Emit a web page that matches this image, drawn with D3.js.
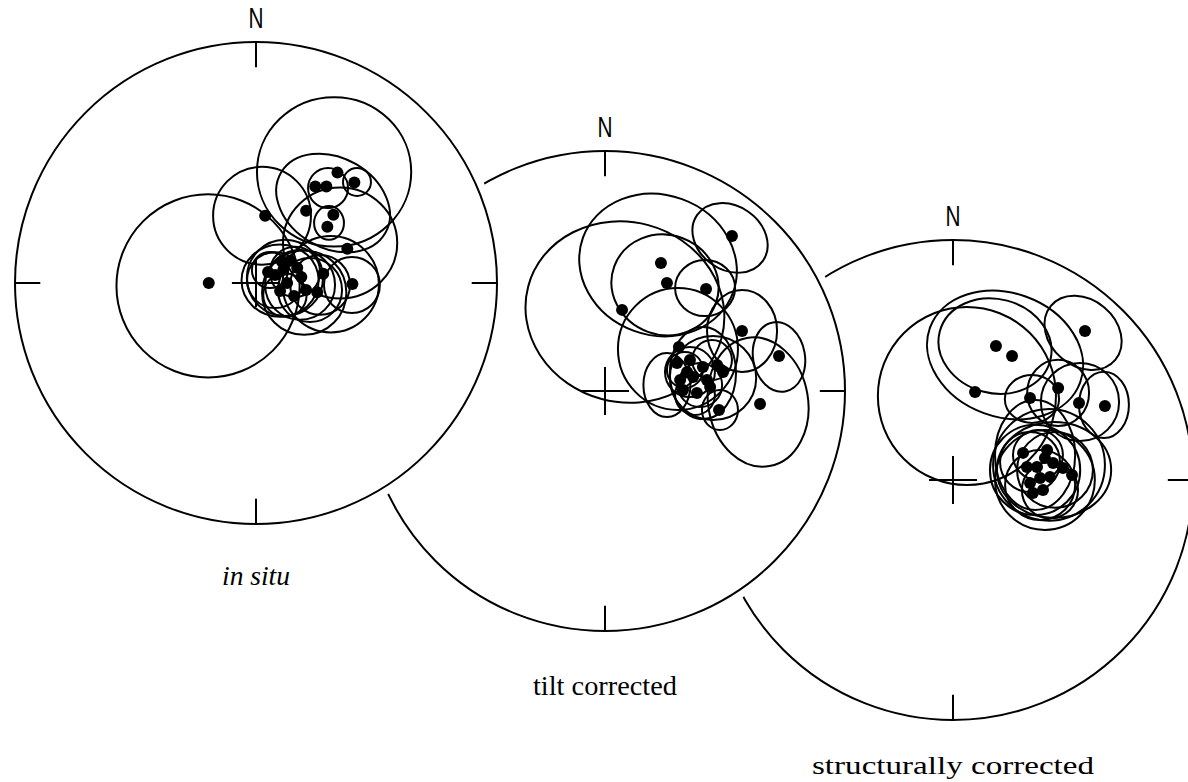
<!DOCTYPE html>
<html>
<head>
<meta charset="utf-8">
<script src="https://cdn.jsdelivr.net/npm/d3@7"></script>
<style>
  html, body { margin: 0; padding: 0; background: #fff; }
  svg { display: block; }
</style>
</head>
<body>
<svg id="chart" width="1188" height="782"></svg>
<script>
// ---------- DATA (net coordinates: percent of primitive radius, East / North) ----------
const northLabel = "N";
const netLabels = ["in situ", "tilt corrected", "structurally corrected"];

// in situ: site means [E, N]
const insituPoints = [
  [-19.6, 0], [3.8, 27.9], [20.8, 30.0], [32.1, 28.3], [29.6, 23.3], [24.6, 40.0],
  [29.2, 40.0], [33.8, 45.8], [40.8, 41.7], [37.9, 14.2], [40.0, -0.4],
  [5.0, 4.6], [7.9, 3.3], [11.3, 5.4], [14.2, 9.2], [17.1, 6.3], [18.8, 2.5],
  [10.0, -3.3], [12.9, 0], [20.8, -2.9], [25.4, -3.8], [27.9, 3.8], [15.8, -5.4], [10.8, 8.8]
];
// in situ: confidence ellipses [E, N, semi-axis a, semi-axis b, rotation deg]
const insituEllipses = [
  [-19.9, -1.2, 38, 38, 0], [2.5, 27.9, 20.3, 20.3, 0], [32.4, 46.1, 32, 31, 0],
  [32.0, 33.2, 25, 18.7, 30], [41.9, 41.9, 5.8, 5.8, 0], [29.9, 39.4, 8.3, 8.3, 0],
  [30.3, 24.9, 6.2, 7.0, 0], [34.9, 16.6, 23.7, 23.0, 0], [39.8, -0.8, 11.6, 11.6, 0],
  [12.0, 2.1, 15.8, 15.8, 0], [7.9, 1.2, 11.6, 11.6, 0], [18.3, -0.8, 14.5, 14.5, 0],
  [22.4, -2.9, 13.3, 13.3, 0], [16.2, 4.6, 10.4, 10.4, 0], [26.6, -0.8, 12.4, 12.4, 0],
  [12.0, -5.0, 9.0, 9.0, 0], [5.8, 5.4, 7.5, 7.5, 0], [31.0, -0.5, 20.0, 20.0, 0],
  [20.0, -4.0, 17.5, 17.5, 0], [10.0, 1.0, 16.0, 15.0, 0]
];

// tilt corrected
const tiltPoints = [
  [52.9, 64.6], [23.3, 53.3], [25.8, 45.0], [42.1, 42.5], [7.1, 33.8], [57.1, 25.0],
  [72.5, 14.6], [30.8, 18.3], [64.6, -5.4], [47.5, -7.9],
  [30.0, 11.7], [35.4, 12.9], [40.8, 10.0], [46.7, 10.8], [49.2, 7.9], [31.3, 4.6],
  [36.7, 5.8], [42.5, 4.6], [32.5, 0.4], [38.3, -0.8], [43.8, 1.7], [34.2, 7.9]
];
const tiltEllipses = [
  [8.3, 32.9, 41.7, 37.5, 15], [22.1, 52.5, 33.3, 29.2, 20], [25.0, 44.2, 22.5, 20.8, 20],
  [52.1, 63.8, 16.7, 13.3, 35], [41.7, 42.9, 12.5, 11.7, 0], [57.1, 25.0, 14.6, 17.1, 0],
  [72.5, 14.2, 10.8, 14.6, -10], [63.8, -4.6, 20.8, 27.1, -10], [30.4, 17.5, 25, 25.4, 0],
  [25.8, 2.5, 9.8, 13.3, 0], [40.8, 7.5, 13.8, 19.2, 0], [47.9, -7.9, 7.5, 8.3, 0],
  [35.4, 7.9, 10.4, 10.4, 0], [33.3, 8.8, 7.5, 7.5, 0], [39.6, 2.5, 9.2, 9.2, 0],
  [44.6, 12.9, 8.3, 8.3, 0], [37.5, -1.7, 8.3, 8.3, 0], [45.0, 5.4, 18.0, 17.5, 0]
];

// structurally corrected
const structPoints = [
  [55.0, 62.1], [17.9, 55.8], [24.6, 51.7], [9.2, 36.7], [32.1, 34.2], [43.8, 38.3],
  [52.5, 32.1], [63.3, 30.8],
  [49.6, 2.1], [45.8, 5.0], [29.2, 11.3], [32.1, -1.3], [37.5, -4.2], [39.2, 12.5],
  [35.0, 5.4], [41.7, 7.1], [30.8, 5.4], [36.3, 0.8], [40.4, 1.3], [33.3, -5.4], [38.3, 9.2]
];
const structEllipses = [
  [5.8, 35.0, 37.1, 37.1, 0], [21.7, 52.1, 33.3, 25.8, 20], [17.5, 55.8, 23.8, 19.6, 15],
  [54.2, 61.3, 17.5, 13.8, 40], [32.9, 33.8, 11.3, 10.0, 0], [43.8, 36.3, 12.9, 13.8, 0],
  [62.9, 31.3, 10.4, 13.8, 0], [52.9, 32.5, 16.3, 16.3, 0],
  [40.0, 6.3, 23.3, 23.3, 0], [34.2, 4.2, 18.8, 18.8, 0], [38.3, 0, 20.8, 20.8, 0],
  [32.1, 7.5, 12.5, 12.5, 0], [42.5, 4.2, 15.8, 15.8, 0], [36.3, -2.1, 14.6, 14.6, 0],
  [35.4, 10.4, 10.4, 10.4, 0], [40.4, -4.2, 11.7, 11.7, 0], [34.2, 10.4, 16.7, 22.9, 0],
  [42.1, 4.2, 23.8, 20.0, 0]
];

// ---------- LAYOUT ----------
const svg = d3.select("#chart");
const layout = [
  { cx: 256, cy: 283, R: 241, label: { y: 585, w: 68, italic: true, fs: 27 } },
  { cx: 605, cy: 391, R: 240, label: { y: 695, w: 144, italic: false, fs: 27 } },
  { cx: 953, cy: 480, R: 240, label: { y: 774, w: 282, italic: false, fs: 25 } }
];
const pointSets = [insituPoints, tiltPoints, structPoints];
const ellipseSets = [insituEllipses, tiltEllipses, structEllipses];

// draw back-to-front: structural, tilt, in situ
[2, 1, 0].forEach(i => {
  const L = layout[i];
  const x = d3.scaleLinear().domain([-100, 100]).range([L.cx - L.R, L.cx + L.R]);
  const y = d3.scaleLinear().domain([-100, 100]).range([L.cy + L.R, L.cy - L.R]);
  const r = d3.scaleLinear().domain([0, 100]).range([0, L.R]);
  const g = svg.append("g");

  // white mask (halo) and primitive circle
  g.append("circle").attr("cx", x(0)).attr("cy", y(0)).attr("r", r(100) + 8).attr("fill", "#fff");
  g.append("circle").attr("cx", x(0)).attr("cy", y(0)).attr("r", r(100))
    .attr("fill", "none").attr("stroke", "#000").attr("stroke-width", 2);

  // cardinal ticks
  const tick = 10.5;
  const ticks = [[0, 100, 0, 100 - tick], [0, -100, 0, -100 + tick], [100, 0, 100 - tick, 0], [-100, 0, -100 + tick, 0]];
  g.selectAll("line.tick").data(ticks).join("line").attr("class", "tick")
    .attr("x1", d => x(d[0])).attr("y1", d => y(d[1])).attr("x2", d => x(d[2])).attr("y2", d => y(d[3]))
    .attr("stroke", "#000").attr("stroke-width", 2);
  // centre cross
  const cr = 10;
  g.selectAll("line.cross").data([[-cr, 0, cr, 0], [0, -cr, 0, cr]]).join("line").attr("class", "cross")
    .attr("x1", d => x(d[0])).attr("y1", d => y(d[1])).attr("x2", d => x(d[2])).attr("y2", d => y(d[3]))
    .attr("stroke", "#000").attr("stroke-width", 2);

  // N label
  g.append("text").attr("x", x(0)).attr("y", y(100) - 14)
    .attr("text-anchor", "middle").attr("font-family", "Liberation Sans, Arial, sans-serif")
    .attr("font-size", 29).attr("textLength", 15).attr("lengthAdjust", "spacingAndGlyphs")
    .text(northLabel);

  // ellipses
  g.selectAll("ellipse").data(ellipseSets[i]).join("ellipse")
    .attr("cx", d => x(d[0])).attr("cy", d => y(d[1]))
    .attr("rx", d => r(d[2])).attr("ry", d => r(d[3]))
    .attr("transform", d => `rotate(${d[4]},${x(d[0])},${y(d[1])})`)
    .attr("fill", "none").attr("stroke", "#000").attr("stroke-width", 2);

  // points
  g.selectAll("circle.pt").data(pointSets[i]).join("circle").attr("class", "pt")
    .attr("cx", d => x(d[0])).attr("cy", d => y(d[1])).attr("r", 6).attr("fill", "#000");

  // caption
  g.append("text").attr("x", x(0)).attr("y", L.label.y)
    .attr("text-anchor", "middle").attr("font-family", "Liberation Serif, Times New Roman, serif")
    .attr("font-style", L.label.italic ? "italic" : "normal")
    .attr("font-size", L.label.fs).attr("textLength", L.label.w).attr("lengthAdjust", "spacingAndGlyphs")
    .text(netLabels[i]);
});
</script>
</body>
</html>
